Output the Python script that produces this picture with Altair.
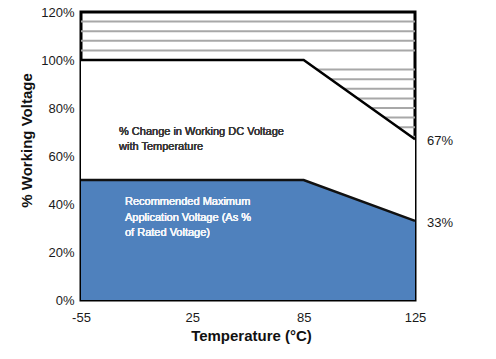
import altair as alt
import pandas as pd

# ---- data ----
temp_labels = ["-55", "25", "85", "125"]
temp_index = [0, 1, 2, 3]
working_voltage = [100, 100, 100, 67]
recommended_voltage = [50, 50, 50, 33]
hatch_levels = [116, 112, 108, 104, 96, 92, 88, 84, 80, 76, 72, 68]
end_labels = [67, 33]
note_upper = ["% Change in Working DC Voltage", "with Temperature"]
note_lower = ["Recommended Maximum", "Application Voltage (As %", "of Rated Voltage)"]

df = pd.DataFrame({
    "idx": temp_index,
    "temp": temp_labels,
    "working": working_voltage,
    "recommended": recommended_voltage,
})
hatch_df = pd.DataFrame({"level": hatch_levels})
end_df = pd.DataFrame({"idx": [temp_index[-1]] * len(end_labels), "v": end_labels})

W, H = 334, 288
FONT = "Liberation Sans"

label_expr = "[" + ",".join("'%s'" % t for t in temp_labels) + "][datum.value]"

x_enc = alt.X(
    "idx:Q",
    scale=alt.Scale(domain=[0, 3], nice=False, zero=False),
    axis=alt.Axis(
        values=temp_index, labelExpr=label_expr, title="Temperature (°C)",
        ticks=False, domain=False, grid=False, labelPadding=11, labelFlush=False,
        labelFontSize=13, labelFont=FONT, labelColor="#1a1a1a",
        titleFontSize=15, titleFont=FONT, titleFontWeight="bold", titleColor="#111",
        titleX=170, titleY=40, titleBaseline="alphabetic",
    ),
)
y_scale = alt.Scale(domain=[0, 120], nice=False)
y_axis = alt.Axis(
    values=[0, 20, 40, 60, 80, 100, 120], labelExpr="datum.value + '%'",
    title="% Working Voltage", ticks=False, domain=False, grid=False,
    labelPadding=7, labelFontSize=13, labelFont=FONT, labelColor="#1a1a1a",
    labelFlush=False,
    titleFontSize=15, titleFont=FONT, titleFontWeight="bold", titleColor="#111",
    titleX=-55, titleY=128, titleBaseline="middle", titleAngle=-90,
)

hatch = alt.Chart(hatch_df).mark_rule(color="#a8a8a8", strokeWidth=2).encode(
    y=alt.Y("level:Q", scale=y_scale, axis=y_axis)
)

white_area = alt.Chart(df).mark_area(color="white", opacity=1).encode(
    x=x_enc, y=alt.Y("working:Q", scale=y_scale, axis=y_axis)
)
blue_area = alt.Chart(df).mark_area(color="#4f81bd", opacity=1).encode(
    x=x_enc, y=alt.Y("recommended:Q", scale=y_scale, axis=y_axis)
)
work_line = alt.Chart(df).mark_line(color="black", strokeWidth=2.5).encode(
    x=x_enc, y=alt.Y("working:Q", scale=y_scale, axis=y_axis)
)
rec_line = alt.Chart(df).mark_line(color="#111", strokeWidth=2.5).encode(
    x=x_enc, y=alt.Y("recommended:Q", scale=y_scale, axis=y_axis)
)

end_text = alt.Chart(end_df).transform_calculate(
    lbl="datum.v + '%'"
).mark_text(
    align="left", baseline="middle", dx=12, dy=2, fontSize=13, font=FONT,
    color="#1a1a1a", fontWeight="normal",
).encode(
    x=x_enc, y=alt.Y("v:Q", scale=y_scale, axis=y_axis), text="lbl:N",
)

upper_note = alt.Chart(df).mark_text(
    text=note_upper, align="left", baseline="top", fontSize=11, font=FONT,
    color="#3a3a3a", lineHeight=15, fontWeight="normal",
).encode(x=alt.value(38), y=alt.value(114))

lower_note = alt.Chart(df).mark_text(
    text=note_lower, align="left", baseline="top", fontSize=11, font=FONT,
    color="#f4f6fa", lineHeight=15.5, fontWeight="normal",
).encode(x=alt.value(44), y=alt.value(184))

chart = alt.layer(
    hatch, white_area, blue_area, work_line, rec_line, end_text, upper_note, lower_note
).properties(
    width=W, height=H,
    autosize=alt.AutoSizeParams(type="none"),
    padding={"left": 81, "top": 12, "right": 81, "bottom": 59},
    background="white",
).configure_view(stroke="black", strokeWidth=3)

chart.save("out.html", embed_options={"renderer": "svg", "actions": False})
